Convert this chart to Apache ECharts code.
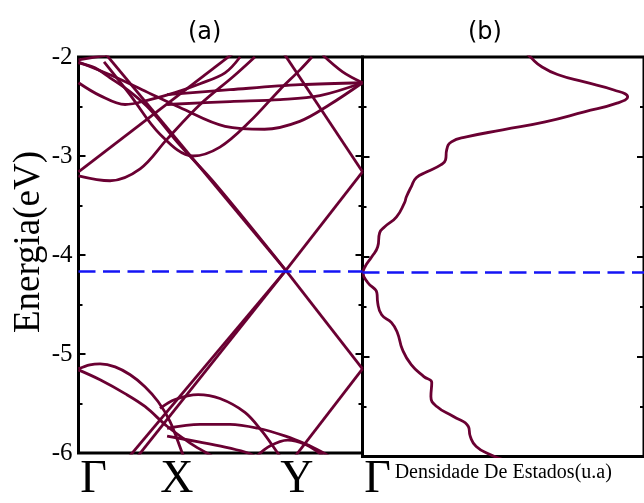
<!DOCTYPE html>
<html>
<head>
<meta charset="utf-8">
<script src="https://cdn.jsdelivr.net/npm/echarts@6/dist/echarts.min.js"></script>
<style>
html,body{margin:0;padding:0;background:#fff;}
#chart{width:644px;height:503px;}
</style>
</head>
<body>
<div id="chart"></div>
<script>
// k-path: Γ - X - Y - Γ (normalised path length)
const kPoints = [0, 0.308, 0.73, 1];
const kLabels = ['Γ', 'X', 'Y', 'Γ'];
const energyTicks = [-6, -5, -4, -3, -2];
const fermiLevel = -4.155;

// band energies along the path, [k, E(eV)]
const bandLow1 = [[0,-5.15],[0.040,-5.11],[0.076,-5.10],[0.129,-5.13],[0.182,-5.21],[0.234,-5.33],[0.280,-5.48],[0.322,-5.68],[0.364,-5.99],[0.378,-6.09]];
const bandLow2 = [[0,-5.16],[0.076,-5.26],[0.164,-5.40],[0.234,-5.53],[0.312,-5.73],[0.393,-5.90],[0.445,-5.99],[0.481,-6.05]];
const coneLow1 = [[0.16,-6.1],[0.73,-4.155]];
const coneLow2 = [[0.19,-6.1],[0.73,-4.155]];
const coneLow3 = [[0.73,-4.155],[1,-5.15]];
const coneLow4 = [[1,-5.15],[0.745,-6.1]];
const bandLow3 = [[0.287,-5.55],[0.340,-5.46],[0.421,-5.41],[0.498,-5.45],[0.586,-5.59],[0.646,-5.78],[0.699,-5.99],[0.717,-6.06]];
const bandLow4 = [[0.312,-5.75],[0.428,-5.71],[0.533,-5.71],[0.632,-5.75],[0.729,-5.83],[0.800,-5.91],[0.857,-5.99],[0.886,-6.04]];
const bandLow5 = [[0.621,-6.05],[0.674,-5.93],[0.737,-5.87],[0.797,-5.91],[0.843,-5.99],[0.868,-6.05]];
const bandLow6 = [[0.312,-5.83],[0.428,-5.89],[0.516,-5.94],[0.586,-5.99],[0.621,-6.03]];

const coneUp1 = [[0.09,-1.95],[0.73,-4.155]];
const coneUp2 = [[0,-2.06],[0.058,-2.11],[0.111,-2.21],[0.181,-2.35],[0.252,-2.53],[0.357,-2.89],[0.481,-3.28],[0.73,-4.155]];
const coneUp3 = [[0.72,-1.95],[1,-3.16]];
const coneUp4 = [[0.73,-4.155],[1,-3.16]];
const bandUp1 = [[0,-3.16],[0.55,-1.95]];
const bandUp2 = [[0,-3.2],[0.111,-3.25],[0.217,-3.13],[0.312,-2.83],[0.428,-2.48],[0.544,-2.2],[0.621,-2.0]];
const bandUp3 = [[0.09,-2.05],[0.181,-2.38],[0.287,-2.78],[0.403,-3.0],[0.498,-2.91],[0.604,-2.65],[0.709,-2.33],[0.780,-2.13],[0.822,-2.0]];
const bandUp4 = [[0,-2.05],[0.111,-2.18],[0.224,-2.33],[0.357,-2.51],[0.516,-2.70],[0.655,-2.73],[0.779,-2.65],[0.885,-2.48],[1,-2.26]];
const bandUp5 = [[0,-2.26],[0.076,-2.39],[0.164,-2.48],[0.252,-2.43],[0.340,-2.36],[0.428,-2.27],[0.516,-2.16],[0.569,-2.0]];
const bandUp6 = [[0.312,-2.38],[0.534,-2.33],[0.780,-2.28],[1,-2.26]];
const bandUp7 = [[0.312,-2.48],[0.534,-2.45],[0.710,-2.43],[0.850,-2.39],[1,-2.26]];
const bandUp8 = [[0,-2.03],[0.1,-1.98]];
const bandUp9 = [[1,-2.26],[0.93,-2.15],[0.86,-1.98]];

const bands = [bandLow1, bandLow2, coneLow1, coneLow2, coneLow3, coneLow4, bandLow3, bandLow4, bandLow5, bandLow6,
  coneUp1, coneUp2, coneUp3, coneUp4, bandUp1, bandUp2, bandUp3, bandUp4, bandUp5, bandUp6, bandUp7, bandUp8, bandUp9];

// density of states: [DOS (arb. units), E(eV)]
const dosCurve = [[0.579,-1.95],[0.596,-2.00],[0.638,-2.10],[0.698,-2.18],[0.788,-2.25],[0.893,-2.33],[0.942,-2.40],[0.907,-2.46],[0.788,-2.55],[0.649,-2.65],[0.498,-2.73],[0.369,-2.80],[0.316,-2.85],[0.299,-2.93],[0.295,-3.03],[0.278,-3.08],[0.229,-3.15],[0.191,-3.21],[0.173,-3.30],[0.156,-3.40],[0.149,-3.46],[0.121,-3.60],[0.079,-3.70],[0.061,-3.76],[0.054,-3.90],[0.033,-4.00],[0.009,-4.10],[0.002,-4.16],[0.019,-4.26],[0.051,-4.36],[0.054,-4.46],[0.068,-4.58],[0.103,-4.66],[0.124,-4.76],[0.142,-4.93],[0.173,-5.08],[0.218,-5.20],[0.246,-5.26],[0.243,-5.40],[0.264,-5.50],[0.323,-5.60],[0.376,-5.70],[0.383,-5.80],[0.404,-5.90],[0.453,-5.98],[0.498,-6.03]];

const lineColor = '#6a0032';
const serif = '"Liberation Serif","DejaVu Serif",serif';

function energyAxis(gridIndex, position, withLabels) {
  return {
    type: 'value', gridIndex: gridIndex, position: position,
    min: -6, max: -2, interval: 1,
    axisLine: { show: false },
    axisTick: { show: true, inside: true, length: 7, lineStyle: { color: '#000', width: 2 } },
    minorTick: { show: true, splitNumber: 2, length: 4, lineStyle: { color: '#000', width: 2 } },
    splitLine: { show: false },
    axisLabel: withLabels ? {
      show: true, margin: 6, color: '#000', fontFamily: serif, fontSize: 25,
      padding: [6, 0, 0, 0],
      formatter: function (v) { return energyTicks.indexOf(v) >= 0 ? String(v) : ''; }
    } : { show: false },
    name: withLabels ? 'Energia(eV)' : '',
    nameLocation: 'middle', nameRotate: 90, nameGap: 31,
    nameTextStyle: { color: '#000', fontFamily: serif, fontSize: 37, padding: [0, 0, 0, 26] }
  };
}

const series = bands.map(function (b) {
  return {
    type: 'line', xAxisIndex: 0, yAxisIndex: 0, data: b,
    showSymbol: false, smooth: b.length > 2 ? 0.35 : false, silent: true, clip: true,
    lineStyle: { color: lineColor, width: 2.8 }
  };
});
series[0].markLine = {
  symbol: 'none', silent: true, label: { show: false },
  lineStyle: { color: '#1414f5', width: 2.6, type: [17, 7.5] },
  data: [{ yAxis: fermiLevel }], animation: false
};
series.push({
  type: 'line', xAxisIndex: 1, yAxisIndex: 2, data: dosCurve,
  showSymbol: false, smooth: 0.5, silent: true, clip: true,
  lineStyle: { color: lineColor, width: 2.8 },
  markLine: {
    symbol: 'none', silent: true, label: { show: false },
    lineStyle: { color: '#1414f5', width: 2.6, type: [17, 7.5] },
    data: [{ yAxis: fermiLevel }], animation: false
  }
});

const chart = echarts.init(document.getElementById('chart'), null, { renderer: 'canvas' });
chart.setOption({
  animation: false,
  backgroundColor: '#fff',
  title: [
    { text: '(a)', left: 188, top: 21, padding: 0, textStyle: { fontFamily: '"DejaVu Sans",sans-serif', fontSize: 24, fontWeight: 'normal', color: '#000' } },
    { text: '(b)', left: 468, top: 21, padding: 0, textStyle: { fontFamily: '"DejaVu Sans",sans-serif', fontSize: 24, fontWeight: 'normal', color: '#000' } }
  ],
  grid: [
    { left: 78.5, top: 57, width: 284, height: 399.5, show: true, borderColor: '#000', borderWidth: 3, backgroundColor: 'transparent' },
    { left: 362.5, top: 57, width: 286, height: 399.5, show: true, borderColor: '#000', borderWidth: 3, backgroundColor: 'transparent' }
  ],
  xAxis: [
    {
      type: 'value', gridIndex: 0, min: 0, max: 1,
      axisLine: { show: false }, axisTick: { show: false }, splitLine: { show: false },
      axisLabel: {
        show: true, customValues: kPoints, margin: 4,
        formatter: function (v) {
          const i = kPoints.indexOf(v);
          const t = i >= 0 ? kLabels[i] : '';
          return (i === 0 || i === 3) ? '{g|' + t + '}' : '{s|' + t + '}';
        },
        rich: {
          g: { fontFamily: serif, fontSize: 46, color: '#000', padding: [0, 0, 0, 30] },
          s: { fontFamily: serif, fontSize: 46, color: '#000', padding: [0, 0, 0, 22] }
        }
      }
    },
    {
      type: 'value', gridIndex: 1, min: 0, max: 1,
      axisLine: { show: false }, axisTick: { show: false }, splitLine: { show: false },
      axisLabel: { show: false },
      name: 'Densidade De Estados(u.a)', nameLocation: 'middle', nameGap: 6,
      nameTextStyle: { fontFamily: serif, fontSize: 20, color: '#000' }
    }
  ],
  yAxis: [
    energyAxis(0, 'left', true),
    energyAxis(0, 'right', false),
    energyAxis(1, 'left', false),
    energyAxis(1, 'right', false)
  ],
  series: series
});
</script>
</body>
</html>
